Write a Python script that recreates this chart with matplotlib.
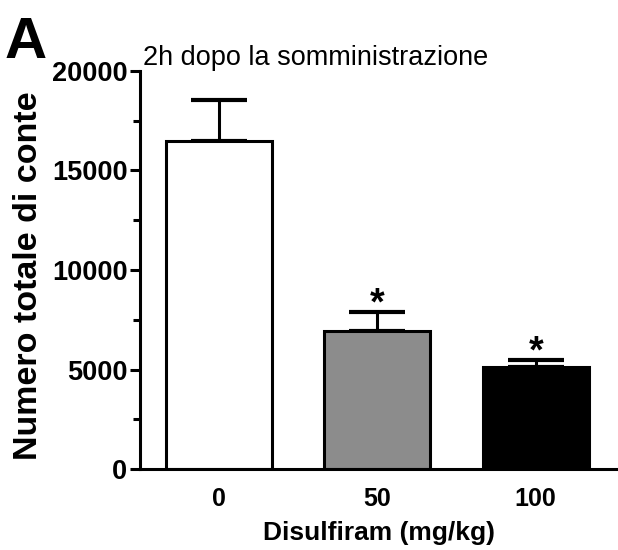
import matplotlib.pyplot as plt
from matplotlib.ticker import MultipleLocator

plt.rcParams['font.family'] = ['Liberation Sans', 'DejaVu Sans']

# dati
doses = ["0", "50", "100"]
means = [16480, 6930, 5125]
sems = [2060, 960, 355]
colors = ["white", "#8c8c8c", "black"]
signif = ["", "*", "*"]

fig = plt.figure(figsize=(6.18, 5.5), dpi=100)
ax = fig.add_axes([0.2265, 0.147, 0.7735, 0.724])

x = range(len(doses))
ax.bar(x, means, width=0.67, color=colors, edgecolor="black", linewidth=2.2, zorder=2)
ax.errorbar(x, means, yerr=[[0] * len(sems), sems], fmt="none", ecolor="black",
            elinewidth=2.2, capsize=20.5, capthick=3, zorder=1)

for i, (m, s, t) in enumerate(zip(means, sems, signif)):
    if t:
        ax.text(i, m + s + 400, t, ha="center", va="center", fontsize=27,
                fontweight="bold")

ax.set_xlim(-0.5, 2.52)
ax.set_ylim(0, 20000)
ax.yaxis.set_major_locator(MultipleLocator(5000))
ax.yaxis.set_minor_locator(MultipleLocator(2500))
ax.set_xticks(list(x))
ax.set_xticklabels(doses)

for s in ["top", "right"]:
    ax.spines[s].set_visible(False)
for s in ["left", "bottom"]:
    ax.spines[s].set_linewidth(2.2)

ax.tick_params(axis="y", which="major", length=7, width=2.2, labelsize=19.5, pad=2)
ax.tick_params(axis="y", which="minor", length=5, width=2.2)
ax.tick_params(axis="x", length=0, labelsize=18, pad=13)
for lab in ax.get_yticklabels() + ax.get_xticklabels():
    lab.set_fontweight("bold")

ax.set_ylabel("Numero totale di conte", fontsize=24.5, fontweight="bold")
ax.yaxis.set_label_coords(-0.234, 0.487)
ax.yaxis.label.set_va("center")
ax.set_xlabel("Disulfiram (mg/kg)", fontsize=19, fontweight="bold", labelpad=7)

fig.text(143 / 618, 0.894, "2h dopo la somministrazione", fontsize=19.5,
         ha="left", va="center")
fig.text(0.008, 0.895, "A", fontsize=42, fontweight="bold")

fig.savefig("out.png", dpi=100)
